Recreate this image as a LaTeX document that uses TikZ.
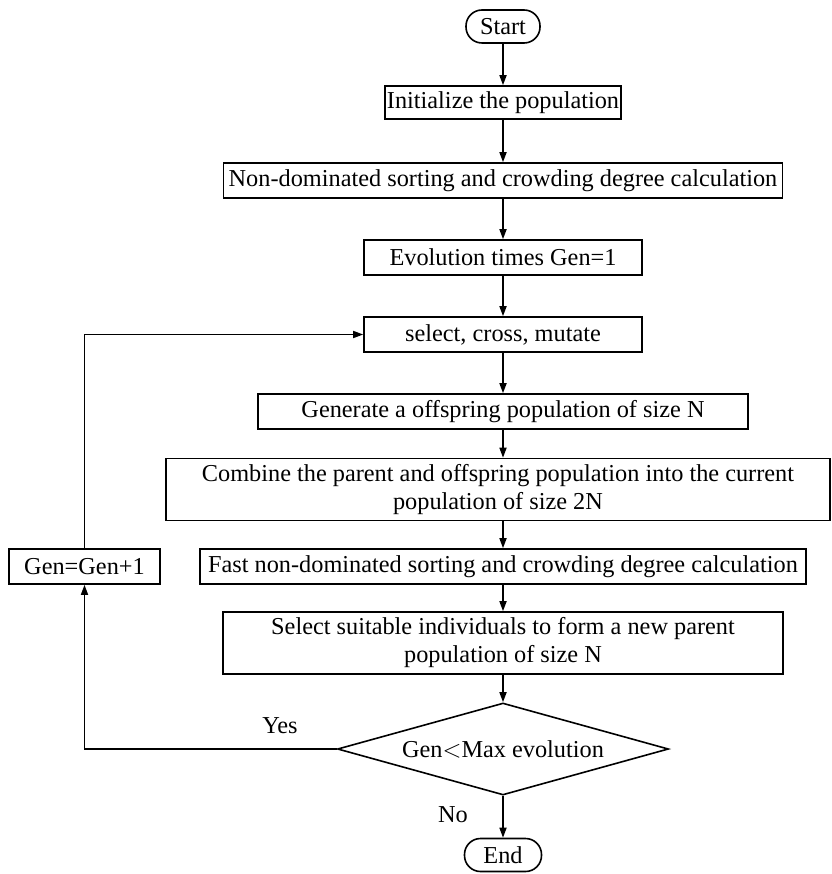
\documentclass[tikz,border=0pt]{standalone}
\usepackage{fontspec}
\setmainfont{Liberation Serif}
\usetikzlibrary{arrows.meta, positioning, shapes.geometric}

\begin{document}
\begin{tikzpicture}[
      x=1pt, y=-1pt,
      line width=1.6pt,
      box/.style={draw, rectangle, inner sep=2pt, minimum height=35pt,
                  align=center, font=\fontsize{24.3}{28}\selectfont},
      term/.style={box, rounded corners=16pt, minimum height=33pt},
      decide/.style={box, diamond, aspect=3.6, inner sep=0pt,
                     minimum width=331pt, minimum height=92pt},
      lbl/.style={font=\fontsize{24.3}{28}\selectfont},
      ar/.style={-{Triangle[length=10pt, width=7pt]}}
    ]
    \useasboundingbox (0,0) rectangle (831,874);
    \node[term, minimum width=74pt]  (start) at (503,26.5) {Start};
    \node[box, minimum width=221pt, minimum height=33pt] (init) at (503,102.5) {Initialize the population};
    \node[box, minimum width=559pt] (nds)  at (503,180.5) {Non-dominated sorting and crowding degree calculation};
    \node[box, minimum width=278pt] (gen1) at (503,257.5) {Evolution times Gen=1};
    \node[box, minimum width=278pt] (sel)  at (503,334.5) {select, cross, mutate};
    \node[box, minimum width=490pt] (off)  at (503,411.5) {Generate a offspring population of size N};
    \node[box, minimum width=664pt, minimum height=62pt] (comb) at (498,489.5)
         {Combine the parent and offspring population into the current\\population of size 2N};
    \node[box, minimum width=606pt] (fast) at (503,566.5) {Fast non-dominated sorting and crowding degree calculation};
    \node[box, minimum width=560pt, minimum height=62pt] (pick) at (503,643)
         {Select suitable individuals to form a new parent\\population of size N};
    \node[decide] (cond) at (503,749) {Gen$<$Max evolution};
    \node[term, minimum width=77pt]  (finish) at (503,855) {End};
    \node[box, minimum width=151pt] (inc) at (84.5,566.5) {Gen=Gen+1};
    \coordinate (corner) at (84.5,749);

    \draw[ar] (start) -- (init);
    \draw[ar] (init) -- (nds);
    \draw[ar] (nds) -- (gen1);
    \draw[ar] (gen1) -- (sel);
    \draw[ar] (sel) -- (off);
    \draw[ar] (off) -- (off |- comb.north);
    \draw[ar] (off |- comb.south) -- (fast);
    \draw[ar] (fast) -- (pick);
    \draw[ar] (pick) -- (cond);
    \draw[ar] (cond) -- (finish);
    \draw[ar] (cond.west) -- (corner) -- (inc);
    \draw[ar] (inc) |- (sel);
    \node[lbl] (yes) at (280,726) {Yes};
    \node[lbl] (no)  at (453,815) {No};
  \end{tikzpicture}
\end{document}
